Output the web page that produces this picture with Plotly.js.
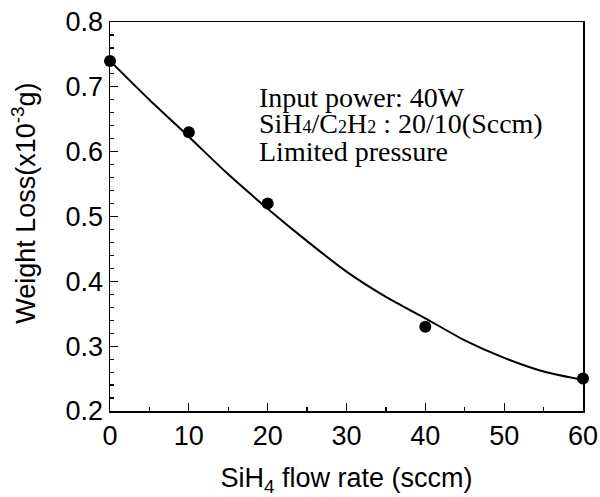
<!DOCTYPE html>
<html>
<head>
<meta charset="utf-8">
<script src="https://cdn.plot.ly/plotly-3.0.1.min.js"></script>
<style>html,body{margin:0;padding:0;background:#fff;}#chart{width:600px;height:497px;}</style>
</head>
<body>
<div id="chart"></div>
<script>
// Measured data points
const flowRate = [0, 10, 20, 40, 60];
const weightLoss = [0.74, 0.63, 0.52, 0.33, 0.25];

// Fitted curve
const fitX = [0, 5, 10, 15, 20, 25, 30, 35, 40, 45, 50, 55, 60];
const fitY = [0.74, 0.680, 0.623, 0.565, 0.512, 0.462, 0.415, 0.376, 0.343, 0.309, 0.282, 0.261, 0.248];

const xTickVals = [0, 10, 20, 30, 40, 50, 60];
const yTickVals = [0.2, 0.3, 0.4, 0.5, 0.6, 0.7, 0.8];
const yTickText = ['0.2', '0.3', '0.4', '0.5', '0.6', '0.7', '0.8'];

const sub = s => '<span style="font-size:18px">' + s + '</span>';
const noteLines = [
  'Input power: 40W',
  'SiH' + sub('4') + '/C' + sub('2') + 'H' + sub('2') + ' : 20/10(Sccm)',
  'Limited pressure'
];
const yTitle = 'Weight Loss(x10<sup>-3</sup>g)';
const xTitle = 'SiH<sub>4</sub> flow rate (sccm)';

const sansFont = 'Liberation Sans, Arial, sans-serif';
const serifFont = 'Liberation Serif, Times New Roman, serif';

const traces = [
  {
    x: fitX, y: fitY, mode: 'lines', type: 'scatter',
    line: {color: '#000', width: 2, shape: 'spline', smoothing: 0.8},
    hoverinfo: 'skip', showlegend: false, cliponaxis: false
  },
  {
    x: flowRate, y: weightLoss, mode: 'markers', type: 'scatter',
    marker: {color: '#000', size: 12},
    showlegend: false, cliponaxis: false
  }
];

const noteY = [0.807, 0.738, 0.668];
const annotations = noteLines.map((t, i) => ({
  text: t, xref: 'paper', yref: 'paper', x: 0.31, y: noteY[i],
  xanchor: 'left', yanchor: 'middle', showarrow: false,
  font: {family: serifFont, size: 28, color: '#000'}
}));
annotations.push({
  text: yTitle, xref: 'paper', yref: 'paper', x: -0.182, y: 0.535,
  xanchor: 'center', yanchor: 'middle', textangle: -90, showarrow: false,
  font: {family: sansFont, size: 27, color: '#000'}
});

const layout = {
  width: 600, height: 497,
  margin: {l: 110, r: 17, t: 22, b: 86},
  paper_bgcolor: '#fff', plot_bgcolor: '#fff',
  showlegend: false,
  xaxis: {
    range: [0, 60], tickvals: xTickVals, ticks: 'inside', ticklen: 8, tickwidth: 1.2,
    tickcolor: '#000', showline: true, linecolor: '#000', linewidth: 1.5, mirror: true,
    showgrid: false, zeroline: false,
    minor: {dtick: 5, ticks: 'inside', ticklen: 4, tickcolor: '#000', showgrid: false},
    tickfont: {family: sansFont, size: 27, color: '#000'},
    title: {text: xTitle, font: {family: sansFont, size: 27, color: '#000'}, standoff: 22}
  },
  yaxis: {
    range: [0.2, 0.8], tickvals: yTickVals, ticktext: yTickText, ticks: 'inside', ticklen: 8, tickwidth: 1.2,
    tickcolor: '#000', showline: true, linecolor: '#000', linewidth: 1.5, mirror: true,
    showgrid: false, zeroline: false,
    minor: {dtick: 0.02, ticks: 'inside', ticklen: 4, tickcolor: '#000', showgrid: false},
    tickfont: {family: sansFont, size: 27, color: '#000'}
  },
  annotations: annotations
};

Plotly.newPlot('chart', traces, layout, {displayModeBar: false, staticPlot: true});
</script>
</body>
</html>
